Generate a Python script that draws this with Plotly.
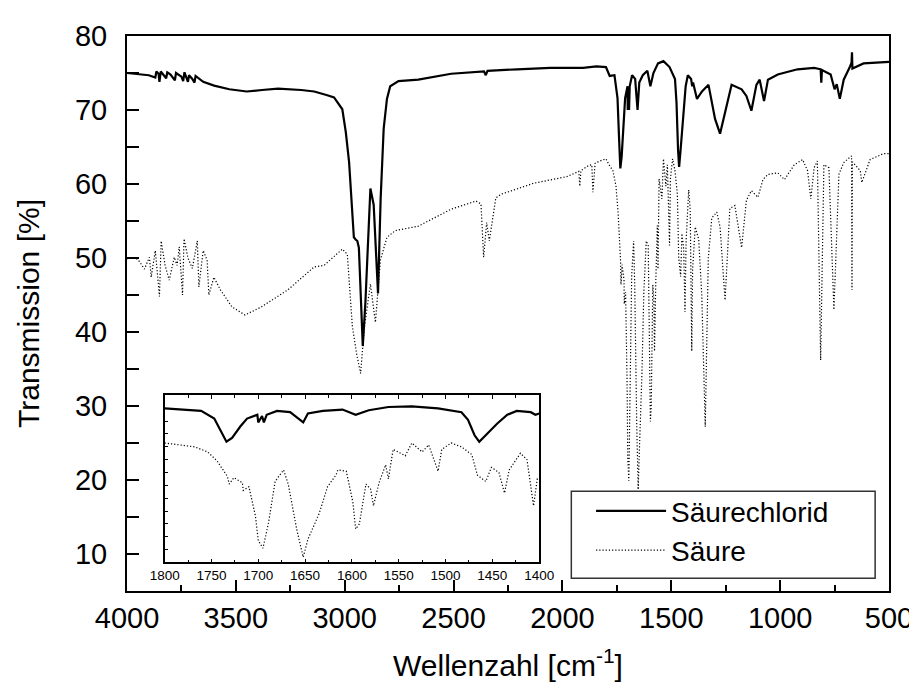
import plotly.graph_objects as go

# IR-Spektren: Säurechlorid (durchgezogen) und Säure (gepunktet)
wn_chlorid = [4000, 3950, 3900, 3870, 3865, 3855, 3851, 3845, 3820, 3815, 3800, 3780, 3775, 3750,
              3742, 3736, 3720, 3715, 3700, 3690, 3685, 3650, 3600, 3530,
              3450, 3380, 3306, 3200, 3140, 3080, 3049, 3011, 2995, 2980, 2958, 2950, 2942, 2935,
              2925, 2917, 2905, 2897, 2882, 2867, 2855, 2847, 2835, 2821, 2806, 2791, 2753, 2662,
              2511, 2360, 2352, 2344, 2208, 2056, 1905, 1844, 1800, 1783, 1761, 1747, 1740, 1734,
              1728, 1719, 1712, 1701, 1700, 1696, 1694, 1691, 1680, 1666, 1655, 1647, 1631, 1610,
              1596, 1582, 1561, 1536, 1508, 1483, 1476, 1469, 1464, 1457, 1445, 1434, 1424, 1409,
              1404, 1400, 1382, 1359, 1329, 1299, 1276, 1253, 1223, 1177, 1155, 1132, 1109, 1094,
              1074, 1056, 1011, 920, 844, 814, 811, 808, 768, 750, 740, 726, 708, 680, 672, 670,
              668, 617, 500]
t_chlorid = [75.0, 74.9, 74.7, 74.4, 75.2, 74.9, 73.8, 75.2, 74.3, 75.1, 74.8, 74.0, 75.0, 74.5,
             73.9, 75.1, 73.8, 74.7, 74.2, 73.7, 74.6, 73.8, 73.3, 72.8,
             72.5, 72.7, 72.9, 72.7, 72.5, 72.0, 71.7, 70.1, 67.0, 63.0, 52.8, 52.5, 52.3, 51.4,
             43.0, 38.1, 44.0, 49.7, 59.4, 57.2, 50.0, 45.2, 58.0, 67.5, 71.5, 73.2, 73.9, 74.1,
             74.9, 75.2, 74.7, 75.3, 75.5, 75.7, 75.7, 75.9, 75.8, 74.6, 74.7, 71.6, 66.3, 62.1,
             63.7, 68.4, 71.6, 73.2, 70.0, 72.6, 70.0, 73.2, 74.7, 74.2, 70.0, 73.7, 74.7, 75.3,
             73.2, 75.0, 76.3, 76.6, 75.8, 74.2, 71.0, 64.7, 62.3, 64.7, 69.5, 73.2, 74.7, 74.2,
             73.2, 73.7, 71.5, 72.5, 73.4, 68.8, 66.8, 69.5, 73.4, 72.8, 71.9, 69.9, 73.4, 74.1,
             71.2, 74.1, 74.8, 75.5, 75.7, 75.5, 73.7, 75.4, 74.8, 72.8, 73.5, 71.5, 74.1, 75.8,
             76.4, 77.8, 75.6, 76.3, 76.5]

wn_saeure = [4000, 3960, 3942, 3920, 3897, 3889, 3870, 3851, 3843, 3825, 3806, 3783, 3770, 3760,
             3745, 3738, 3720, 3700, 3677, 3670, 3650, 3632, 3624, 3601, 3571, 3518, 3458, 3382,
             3261, 3140, 3095, 3040, 3011, 2988, 2965, 2945, 2927, 2910, 2882, 2859, 2836, 2806,
             2768, 2662, 2511, 2397, 2374, 2362, 2348, 2336, 2306, 2283, 2132, 1980, 1925, 1920,
             1915, 1880, 1865, 1860, 1850, 1829, 1800, 1786, 1768, 1754, 1744, 1733, 1731, 1726,
             1717, 1716, 1710, 1703, 1700, 1695, 1689, 1682, 1673, 1668, 1659, 1652, 1647, 1635,
             1626, 1617, 1615, 1606, 1599, 1596, 1592, 1585, 1580, 1577, 1571, 1564, 1561, 1556,
             1543, 1536, 1525, 1518, 1508, 1504, 1494, 1483, 1472, 1466, 1457, 1451, 1443, 1437,
             1432, 1420, 1413, 1406, 1402, 1398, 1390, 1374, 1360, 1344, 1330, 1314, 1291, 1276,
             1253, 1231, 1208, 1177, 1155, 1132, 1102, 1079, 1056, 1011, 980, 935, 897, 874, 859,
             844, 829, 814, 799, 776, 753, 730, 708, 672, 670, 668, 632, 625, 587, 526, 500]
t_saeure = [49.9, 50.0, 49.5, 48.5, 50.1, 47.4, 51.0, 44.8, 52.3, 49.0, 47.0, 50.1, 49.0, 51.5,
            45.0, 52.6, 50.0, 48.6, 52.3, 46.1, 51.0, 49.7, 45.0, 47.4, 45.7, 43.4, 42.3, 43.4,
            45.7, 48.8, 49.0, 50.5, 51.2, 50.5, 40.8, 37.0, 34.4, 40.5, 46.5, 41.3, 49.7, 52.8,
            53.7, 54.3, 56.6, 57.7, 57.3, 50.1, 54.8, 52.3, 58.1, 58.6, 60.1, 61.0, 61.7, 59.7,
            61.8, 62.5, 62.6, 58.9, 62.8, 63.1, 63.4, 62.6, 61.8, 59.7, 56.0, 49.6, 46.4, 49.1,
            47.0, 43.8, 45.4, 33.2, 23.1, 19.9, 30.5, 47.5, 52.3, 46.4, 27.9, 18.7, 23.6, 34.2,
            45.4, 50.1, 52.3, 51.7, 39.0, 27.9, 30.0, 46.4, 44.3, 37.4, 47.0, 54.4, 48.5, 60.7,
            58.0, 63.4, 59.7, 62.6, 51.7, 60.7, 63.4, 61.8, 58.6, 50.1, 47.5, 53.3, 51.2, 42.7,
            52.3, 59.2, 56.5, 37.4, 48.5, 50.0, 54.2, 52.5, 45.0, 27.2, 50.0, 55.4, 56.2, 54.2,
            44.3, 56.7, 57.1, 51.4, 57.8, 59.1, 58.2, 60.6, 61.3, 61.5, 60.6, 62.6, 63.3, 61.8, 58.0,
            62.2, 63.1, 36.2, 62.6, 62.2, 43.0, 61.3, 62.9, 63.8, 45.7, 63.0, 61.8, 60.2, 63.3, 64.1, 64.1]

# Ausschnitt 1800-1400 cm-1 (Inset, eigene Skala ohne Beschriftung)
ins_wn_chlorid = [1800, 1761, 1747, 1740, 1734, 1728, 1719, 1712, 1701, 1700, 1696, 1694, 1691,
                  1680, 1666, 1652, 1647, 1631, 1610, 1596, 1582, 1561, 1536, 1508, 1483, 1476,
                  1469, 1464, 1457, 1445, 1434, 1424, 1409, 1404, 1400]
ins_t_chlorid = [12.0, 11.8, 11.2, 10.2, 9.4, 9.7, 10.6, 11.2, 11.5, 10.9, 11.4, 10.9, 11.5,
                 11.8, 11.7, 10.9, 11.6, 11.8, 11.9, 11.5, 11.85, 12.1, 12.15, 12.0, 11.7, 11.1,
                 9.9, 9.4, 9.9, 10.8, 11.5, 11.8, 11.7, 11.5, 11.6]
ins_wn_saeure = [1800, 1786, 1768, 1754, 1744, 1733, 1731, 1726, 1717, 1716, 1710, 1703, 1700,
                 1695, 1689, 1682, 1673, 1668, 1659, 1652, 1647, 1635, 1626, 1617, 1615, 1606,
                 1599, 1596, 1592, 1585, 1580, 1577, 1571, 1564, 1561, 1556, 1543, 1536, 1525,
                 1518, 1508, 1504, 1494, 1483, 1472, 1466, 1457, 1451, 1443, 1437, 1432, 1420,
                 1413, 1406, 1402, 1400]
ins_t_saeure = [9.3, 9.15, 9.0, 8.6, 7.9, 6.7, 6.1, 6.6, 6.2, 5.6, 5.9, 3.6, 1.7,
                1.1, 3.1, 6.3, 7.2, 6.1, 2.6, 0.4, 1.8, 3.8, 5.9, 6.8, 7.2, 7.1,
                4.7, 2.6, 3.0, 6.1, 5.7, 4.4, 6.2, 7.6, 6.5, 8.8, 8.3, 9.3, 8.6,
                9.15, 7.1, 8.8, 9.3, 9.0, 8.4, 6.8, 6.3, 7.4, 7.0, 5.4, 7.2, 8.5,
                8.0, 4.4, 6.5, 6.5]

FONT = "Liberation Sans, Arial, sans-serif"
solid = dict(color="black", width=2.2)
dotted = dict(color="black", width=1.2, dash="1.2px,2px")

fig = go.Figure()
fig.add_trace(go.Scatter(x=wn_chlorid, y=t_chlorid, mode="lines", line=solid, name="Säurechlorid"))
fig.add_trace(go.Scatter(x=wn_saeure, y=t_saeure, mode="lines", line=dotted, name="Säure"))
fig.add_trace(go.Scatter(x=ins_wn_chlorid, y=ins_t_chlorid, mode="lines", line=solid,
                         xaxis="x2", yaxis="y2", showlegend=False))
fig.add_trace(go.Scatter(x=ins_wn_saeure, y=ins_t_saeure, mode="lines", line=dotted,
                         xaxis="x2", yaxis="y2", showlegend=False))

fig.update_layout(
    width=917, height=689,
    margin=dict(l=119, r=28, t=21, b=106),
    paper_bgcolor="white", plot_bgcolor="white",
    font=dict(family=FONT, color="black"),
    xaxis=dict(
        range=[4000, 500], tick0=0, dtick=500, ticks="inside", ticklen=11, tickwidth=1.5,
        tickcolor="black", minor=dict(dtick=250, ticks="inside", ticklen=6, tickwidth=1.5,
                                      tickcolor="black"),
        showline=True, linewidth=2, linecolor="black", mirror=True,
        showgrid=False, zeroline=False, tickfont=dict(size=29),
        title=dict(text="Wellenzahl [cm<sup>-1</sup>]", font=dict(size=30), standoff=22),
    ),
    yaxis=dict(
        range=[5, 80], tick0=0, dtick=10, ticks="inside", ticklen=12, tickwidth=1.5,
        tickcolor="black", minor=dict(dtick=5, ticks="inside", ticklen=12, tickwidth=1.5,
                                      tickcolor="black"),
        showline=True, linewidth=2, linecolor="black", mirror=True,
        showgrid=False, zeroline=False, tickfont=dict(size=29), ticklabelstandoff=12,
        title=dict(text="Transmission [%]", font=dict(size=30), standoff=26),
    ),
    xaxis2=dict(
        domain=[0.0494, 0.5409], anchor="y2", range=[1800, 1400], tick0=0, dtick=50,
        ticks="inside", ticklen=4, tickwidth=1, tickcolor="black",
        minor=dict(dtick=25, ticks="inside", ticklen=3, tickcolor="black"),
        showline=True, linewidth=1.5, linecolor="black", mirror="ticks",
        showgrid=False, zeroline=False, tickfont=dict(size=13.5),
    ),
    yaxis2=dict(
        domain=[0.0516, 0.3523], anchor="x2", range=[0, 13], dtick=1,
        ticks="inside", ticklen=4, tickwidth=1, tickcolor="black", showticklabels=False,
        showline=True, linewidth=1.5, linecolor="black", mirror=True,
        showgrid=False, zeroline=False,
    ),
    legend=dict(
        x=0.609, y=0.189, xanchor="left", yanchor="top", bgcolor="rgba(0,0,0,0)",
        font=dict(size=28, family=FONT), itemwidth=70, tracegroupgap=0,
    ),
    shapes=[dict(type="rect", xref="paper", yref="paper", x0=0.5831, x1=0.9818,
                 y0=0.0231, y1=0.1797, line=dict(color="#333333", width=1.5),
                 fillcolor="white", layer="below")],
)

fig.write_html("out.html")
